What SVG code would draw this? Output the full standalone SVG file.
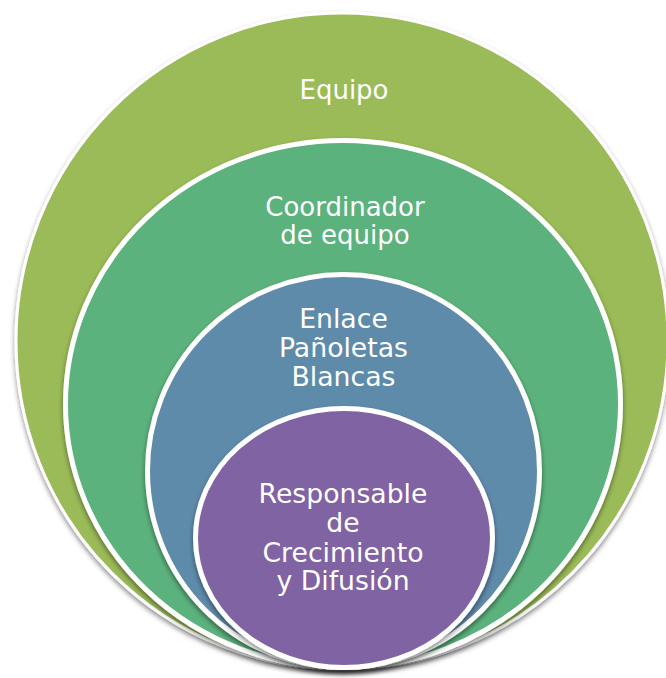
<svg xmlns="http://www.w3.org/2000/svg" width="666" height="678" viewBox="0 0 666 678">
<defs>
<filter id="sh" x="-10%" y="-10%" width="120%" height="125%">
<feDropShadow dx="0" dy="3" stdDeviation="2.5" flood-color="#000" flood-opacity="0.45"/>
</filter>
<style>
.c{stroke:#fff;stroke-width:5;filter:url(#sh)}
.t{font-family:"DejaVu Sans","Verdana",sans-serif;fill:#fff;text-anchor:middle}
</style>
</defs>
<rect width="666" height="678" fill="#fff"/>
<g id="equipo">
<ellipse class="c" cx="342" cy="341" rx="326" ry="328" fill="#9BBB59" style="stroke-width:3"/>
<text class="t" x="344" y="99" font-size="26">Equipo</text>
</g>
<g id="coordinador">
<ellipse class="c" cx="343" cy="404" rx="277.5" ry="263.5" fill="#5BB27D"/>
<text class="t" font-size="26"><tspan x="345" y="215.5">Coordinador</tspan><tspan x="345" y="243.5">de equipo</tspan></text>
</g>
<g id="enlace">
<ellipse class="c" cx="343.5" cy="471" rx="196" ry="196.5" fill="#5E8BAB"/>
<text class="t" font-size="26.7"><tspan x="343.5" y="327.5">Enlace</tspan><tspan x="343.5" y="356.5">Pañoletas</tspan><tspan x="343.5" y="386">Blancas</tspan></text>
</g>
<g id="responsable">
<ellipse class="c" cx="344" cy="538" rx="148.5" ry="129.5" fill="#8064A2"/>
<text class="t" font-size="26.7"><tspan x="343" y="503">Responsable</tspan><tspan x="343" y="532">de</tspan><tspan x="343" y="561.5">Crecimiento</tspan><tspan x="343" y="590">y Difusión</tspan></text>
</g>
</svg>
